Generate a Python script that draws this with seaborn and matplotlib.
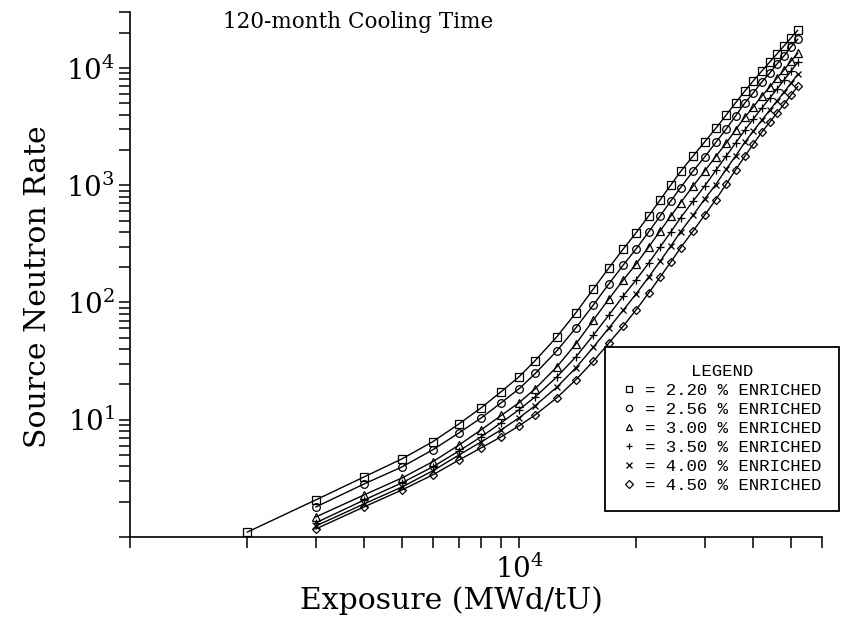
import matplotlib
matplotlib.use("Agg")
import matplotlib.pyplot as plt
from matplotlib.lines import Line2D
from matplotlib.ticker import FixedLocator, NullFormatter, LogFormatterSciNotation
import pandas as pd
import seaborn as sns

# burnup points (MWd/tU); the 2.20 % curve has one extra point at 2000
exposure = [3000, 4000, 5000, 6000, 7000, 8000, 9000, 10000, 11000, 12500,
            14000, 15500, 17000, 18500, 20000, 21500, 23000, 24500, 26000, 28000,
            30000, 32000, 34000, 36000, 38000, 40000, 42000, 44000, 46000, 48000,
            50000, 52000]
exposure_220 = [2000] + exposure

rate_220 = [1.1, 2.07, 3.26, 4.64, 6.5, 9.2, 12.7, 17.4, 23.3, 32, 51,
            82, 130, 197, 285, 395, 545, 745, 1000, 1310, 1780,
            2350, 3050, 3950, 5050, 6350, 7800, 9400, 11200, 13200, 15500,
            18100, 21000]
rate_256 = [1.80, 2.84, 3.96, 5.55, 7.71, 10.4, 14.0, 18.4, 24.8, 38.7,
            61, 95, 144, 208, 288, 398, 544, 730, 956, 1324,
            1748, 2315, 2998, 3909, 5017, 6162, 7567, 9016, 10850, 12741,
            15168, 17598]
rate_300 = [1.48, 2.29, 3.19, 4.39, 6.08, 8.24, 10.9, 14.0, 18.4, 28.3,
            44.5, 70.6, 107, 155, 214, 296, 405, 543, 711, 986,
            1328, 1757, 2275, 2969, 3804, 4672, 5743, 6843, 8237, 9672,
            11512, 13356]
rate_350 = [1.32, 2.07, 2.90, 3.97, 5.41, 7.18, 9.45, 12.2, 15.7, 23.2,
            34.5, 52.5, 78.2, 113, 157, 216, 296, 397, 529, 733,
            989, 1336, 1762, 2298, 2946, 3689, 4540, 5510, 6626, 7936,
            9448, 11193]
rate_400 = [1.24, 1.92, 2.67, 3.67, 5.00, 6.50, 8.23, 10.4, 13.2, 19.0,
            27.8, 41.5, 60.5, 85.8, 119, 164, 224, 301, 402, 557,
            766, 1013, 1363, 1778, 2324, 2909, 3581, 4357, 5240, 6262,
            7457, 8841]
rate_450 = [1.17, 1.81, 2.52, 3.39, 4.53, 5.78, 7.17, 8.88, 11.0, 15.4,
            22.0, 31.5, 45.1, 62.7, 86.9, 120, 164, 220, 293, 408,
            559, 753, 1015, 1353, 1765, 2254, 2829, 3438, 4132, 4945,
            5901, 6972]

enrichments = ["2.20", "2.56", "3.00", "3.50", "4.00", "4.50"]
marker_list = ["s", "o", "^", "+", "x", "D"]
marker_sizes = [5.5, 5.5, 5.5, 5.5, 5.0, 4.5]

sns.set_style("ticks")
plt.rcParams["font.family"] = ["DejaVu Serif"]
plt.rcParams["mathtext.fontset"] = "stix"
for key in ["text.color", "axes.labelcolor", "xtick.color", "ytick.color"]:
    plt.rcParams[key] = "black"

series = zip(enrichments,
             [exposure_220] + [exposure] * 5,
             [rate_220, rate_256, rate_300, rate_350, rate_400, rate_450])
frames = [pd.DataFrame({"exposure": xs, "rate": ys, "enr": enr}) for enr, xs, ys in series]

fig = plt.figure(figsize=(8.53, 6.19), dpi=100)
ax = fig.add_axes([130 / 853, 1 - 537 / 619, 692 / 853, 525 / 619])

for d, m, ms in zip(frames, marker_list, marker_sizes):
    sns.lineplot(data=d, x="exposure", y="rate", color="black",
                 marker=m, markersize=ms, markerfacecolor="none",
                 markeredgecolor="black", markeredgewidth=0.9,
                 linewidth=1.0, ax=ax)

ax.set_xscale("log")
ax.set_yscale("log")
ax.set_xlim(1000, 60000)
ax.set_ylim(1, 30000)

ax.xaxis.set_major_locator(FixedLocator([1e4]))
ax.xaxis.set_major_formatter(LogFormatterSciNotation())
ax.xaxis.set_minor_locator(FixedLocator(
    [1000, 2000, 3000, 4000, 5000, 6000, 7000, 8000, 9000,
     20000, 30000, 40000, 50000, 60000]))
ax.xaxis.set_minor_formatter(NullFormatter())

ax.yaxis.set_major_locator(FixedLocator([10, 100, 1000, 10000]))
ax.yaxis.set_major_formatter(LogFormatterSciNotation())
ax.yaxis.set_minor_locator(FixedLocator(
    [m * 10 ** e for e in range(0, 5) for m in range(1, 10) if m * 10 ** e <= 30000]))
ax.yaxis.set_minor_formatter(NullFormatter())

ax.tick_params(which="both", direction="out", length=8, width=1.1,
               colors="black", labelsize=20)
ax.tick_params(axis="x", pad=5)
ax.tick_params(axis="y", pad=3)
for side in ["top", "right"]:
    ax.spines[side].set_visible(False)
for side in ["left", "bottom"]:
    ax.spines[side].set_linewidth(1.2)
    ax.spines[side].set_color("black")

ax.set_xlabel("Exposure (MWd/tU)", fontsize=21.5)
ax.set_ylabel("Source Neutron Rate", fontsize=21.5)
ax.xaxis.set_label_coords((451 - 130) / 692, -0.093)
ax.yaxis.set_label_coords(-0.112, (537 - 287) / 525)

ax.text((358 - 130) / 692, (537 - 22) / 525, "120-month Cooling Time",
        transform=ax.transAxes, ha="center", va="center", fontsize=15.5)

handles = [Line2D([], [], linestyle="none", marker=m, markersize=4.5,
                  markerfacecolor="none", markeredgecolor="black",
                  markeredgewidth=0.9) for m in marker_list]
labels = ["= %s %% ENRICHED" % e for e in enrichments]
leg = ax.legend(handles, labels, title="LEGEND", loc="upper left",
                bbox_to_anchor=(605 / 853, 1 - 347 / 619),
                bbox_transform=fig.transFigure, borderaxespad=0,
                prop={"family": "Liberation Mono", "size": 12.5},
                title_fontproperties={"family": "Liberation Mono", "size": 12.5},
                handlelength=0.8, handletextpad=0.5, labelspacing=0.22,
                borderpad=1.0, fancybox=False, framealpha=1, edgecolor="black")
leg.get_frame().set_linewidth(1.3)

fig.savefig("out.png", dpi=100, facecolor="white")
